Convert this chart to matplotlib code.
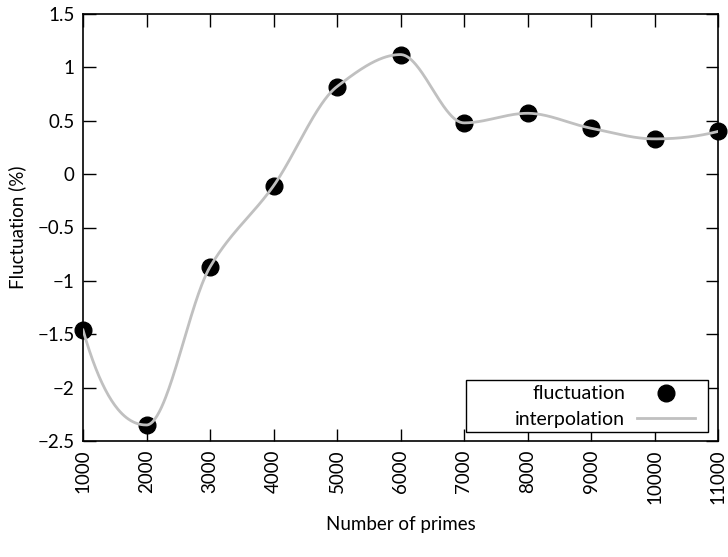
import matplotlib.pyplot as plt
from matplotlib.patches import Rectangle
import numpy as np

plt.rcParams['font.family'] = ['Lato', 'DejaVu Sans']

primes = [1000, 2000, 3000, 4000, 5000, 6000, 7000, 8000, 9000, 10000, 11000]
fluctuation = [-1.46, -2.35, -0.87, -0.11, 0.82, 1.12, 0.48, 0.57, 0.43, 0.33, 0.40]


def pchip(x, y, num=600):
    # shape-preserving piecewise cubic Hermite interpolation (Fritsch-Carlson)
    x = np.asarray(x, float)
    y = np.asarray(y, float)
    h = np.diff(x)
    delta = np.diff(y) / h
    n = len(x)
    d = np.zeros(n)
    for k in range(1, n - 1):
        if delta[k - 1] * delta[k] > 0:
            w1 = 2 * h[k] + h[k - 1]
            w2 = h[k] + 2 * h[k - 1]
            d[k] = (w1 + w2) / (w1 / delta[k - 1] + w2 / delta[k])

    def edge(h0, h1, m0, m1):
        dd = ((2 * h0 + h1) * m0 - h0 * m1) / (h0 + h1)
        if np.sign(dd) != np.sign(m0):
            return 0.0
        if np.sign(m0) != np.sign(m1) and abs(dd) > 3 * abs(m0):
            return 3 * m0
        return dd

    d[0] = edge(h[0], h[1], delta[0], delta[1])
    d[-1] = edge(h[-1], h[-2], delta[-1], delta[-2])

    xs = np.linspace(x[0], x[-1], num)
    idx = np.clip(np.searchsorted(x, xs) - 1, 0, n - 2)
    hh = h[idx]
    t = (xs - x[idx]) / hh
    h00 = 2 * t**3 - 3 * t**2 + 1
    h10 = t**3 - 2 * t**2 + t
    h01 = -2 * t**3 + 3 * t**2
    h11 = t**3 - t**2
    ys = h00 * y[idx] + h10 * hh * d[idx] + h01 * y[idx + 1] + h11 * hh * d[idx + 1]
    return xs, ys


fig = plt.figure(figsize=(7.28, 5.57), dpi=100)
ax = fig.add_axes([83 / 728, 1 - 441 / 557, 635 / 728, 427 / 557])

ax.plot(primes, fluctuation, 'o', color='black', markersize=12,
        label='fluctuation', zorder=2, clip_on=False)
xs, ys = pchip(primes, fluctuation)
ax.plot(xs, ys, color='#c0c0c0', linewidth=2, label='interpolation', zorder=3)

ax.set_xlim(1000, 11000)
ax.set_ylim(-2.5, 1.5)
ax.set_xticks(primes)
ax.set_xticklabels([str(p) for p in primes], rotation=90)
ax.set_yticks([-2.5, -2, -1.5, -1, -0.5, 0, 0.5, 1, 1.5])
ax.set_yticklabels(['\u22122.5', '\u22122', '\u22121.5', '\u22121', '\u22120.5',
                    '0', '0.5', '1', '1.5'])
ax.tick_params(direction='in', length=9, width=1, top=True, right=True,
               labelsize=13.5, pad=6)
for s in ax.spines.values():
    s.set_linewidth(1.2)

ax.set_xlabel('Number of primes', fontsize=13.5, labelpad=9)
ax.set_ylabel('Fluctuation (%)', fontsize=13.5, labelpad=8)

# key box drawn separately so it can be wider than the entries
ax.add_patch(Rectangle((0.603, 0.021), 0.381, 0.122, transform=ax.transAxes,
                       facecolor='white', edgecolor='black', linewidth=1,
                       zorder=4))
leg = ax.legend(loc='lower right', bbox_to_anchor=(0.964, 0.03),
                markerfirst=False, frameon=False, fontsize=14, borderpad=0,
                handlelength=3.0, handletextpad=0.6, labelspacing=0.45,
                borderaxespad=0)
leg.set_zorder(5)
for t in leg.get_texts():
    t.set_ha('right')

fig.savefig('out.png', dpi=100)
